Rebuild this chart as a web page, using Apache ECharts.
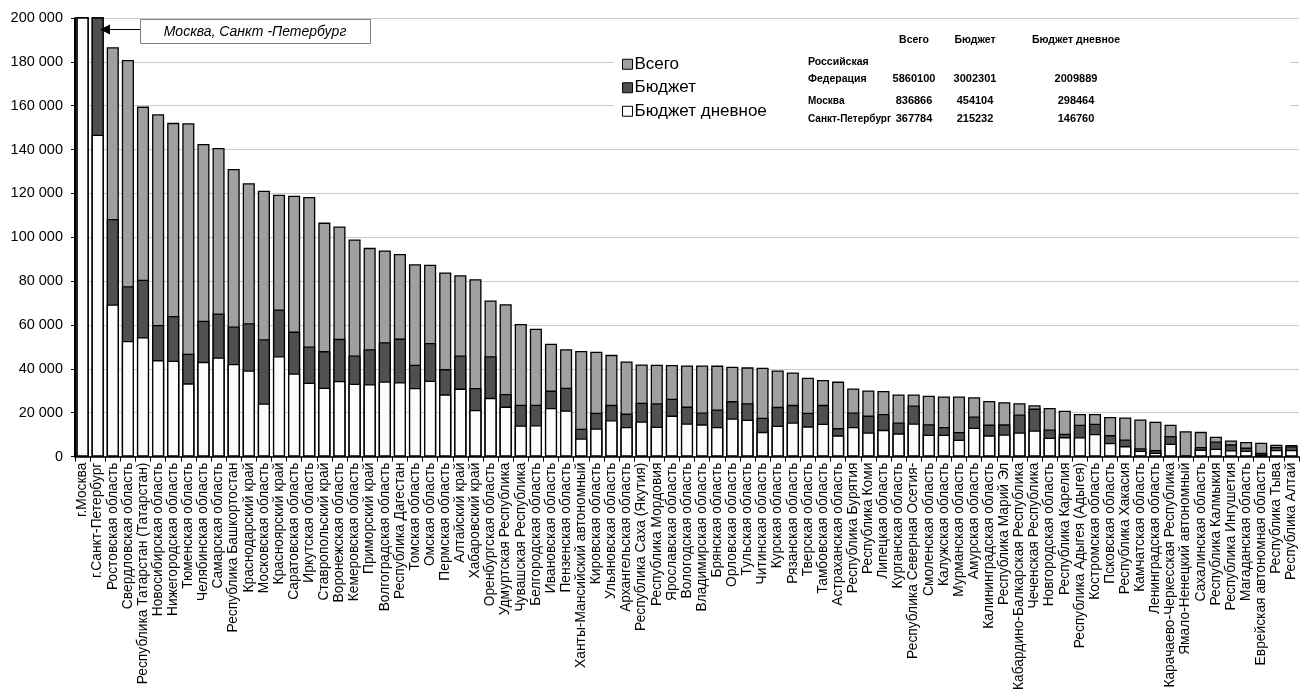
<!DOCTYPE html>
<html>
<head>
<meta charset="utf-8">
<script src="https://cdn.jsdelivr.net/npm/echarts@6/dist/echarts.min.js"></script>
<style>html,body{margin:0;padding:0;background:#fff}#c{width:1300px;height:693px}</style>
</head>
<body>
<div id="c"></div>
<script>
const categories = ["г.Москва","г.Санкт-Петербург","Ростовская область","Свердловская область","Республика Татарстан (Татарстан)","Новосибирская область","Нижегородская область","Тюменская область","Челябинская область","Самарская область","Республика Башкортостан","Краснодарский край","Московская область","Красноярский край","Саратовская область","Иркутская область","Ставропольский край","Воронежская область","Кемеровская область","Приморский край","Волгоградская область","Республика Дагестан","Томская область","Омская область","Пермская область","Алтайский край","Хабаровский край","Оренбургская область","Удмуртская Республика","Чувашская Республика","Белгородская область","Ивановская область","Пензенская область","Ханты-Мансийский автономный","Кировская область","Ульяновская область","Архангельская область","Республика Саха (Якутия)","Республика Мордовия","Ярославская область","Вологодская область","Владимирская область","Брянская область","Орловская область","Тульская область","Читинская область","Курская область","Рязанская область","Тверская область","Тамбовская область","Астраханская область","Республика Бурятия","Республика Коми","Липецкая область","Курганская область","Республика Северная Осетия-","Смоленская область","Калужская область","Мурманская область","Амурская область","Калининградская область","Республика Марий Эл","Кабардино-Балкарская Республика","Чеченская Республика","Новгородская область","Республика Карелия","Республика Адыгея (Адыгея)","Костромская область","Псковская область","Республика Хакасия","Камчатская область","Ленинградская область","Карачаево-Черкесская Республика","Ямало-Ненецкий автономный","Сахалинская область","Республика Калмыкия","Республика Ингушетия","Магаданская область","Еврейская автономная область","Республика Тыва","Республика Алтай"];

const totalValues = [836866,367784,186700,180900,159600,156100,152200,152000,142600,140700,131200,124700,121200,119400,119000,118400,106700,104900,99000,95200,94000,92400,87700,87500,84000,82700,80900,71200,69500,60500,58300,51500,49000,48200,47800,46400,43400,42000,41900,41800,41600,41600,41500,41000,40700,40500,39300,38400,36000,34900,34200,31100,30200,29900,28300,28300,27800,27400,27400,27100,25400,24800,24300,23400,22200,20900,19400,19400,18100,17800,16900,15900,14500,11600,11300,9100,7400,6700,6300,5400,5300];

const budgetValues = [454104,215232,108400,77700,80700,60000,64100,46900,62000,65300,59300,60800,53500,67100,57000,50200,48100,53700,46100,49000,52200,53800,41900,51800,39900,46100,31300,45800,28600,23700,23700,30100,31400,12700,20000,23600,19600,24600,24300,26400,22800,20100,21500,25300,24300,17700,22700,23600,20000,23600,13000,20100,18700,19400,15600,23300,14800,13500,11200,18300,14600,14700,19200,21900,12400,10400,14500,15000,9800,7800,3800,3000,9400,300,4400,6900,5600,4100,1800,4400,4700];

const dayValues = [298464,146760,69400,52700,54400,44000,43700,33400,43200,45200,42200,39300,24200,45800,37900,33700,31400,34500,33200,33000,34300,33900,31300,34600,28400,31000,21300,26800,22800,14200,14300,22200,21000,8300,12800,16600,13500,16000,13600,18700,15100,14700,13500,17400,16800,11300,14100,15600,13800,15000,9700,13500,11000,12200,10600,15100,10000,10000,7700,13200,9700,10100,11000,11900,8600,8900,8800,10300,6200,4800,2700,1800,5900,100,3200,3600,2900,2700,1000,3000,3000];

const seriesNames = ["Всего","Бюджет","Бюджет дневное"];
const tableHeaders = ["Всего","Бюджет","Бюджет дневное"];
const tableRowLabels = [["Российская","Федерация"],["Москва"],["Санкт-Петербург"]];
const tableRowValues = [[5860100,3002301,2009889],[836866,454104,298464],[367784,215232,146760]];
const annotationText = "Москва, Санкт -Петербург";

const FONT = "'Liberation Sans', Arial, sans-serif";
const fmt = v => String(v).replace(/\B(?=(\d{3})+(?!\d))/g, ' ');

const chart = echarts.init(document.getElementById('c'));

const colX = [914, 975, 1076];
const rowY = [79, 101, 119];
const graphics = [
  {type:'rect', z:3, shape:{x:614,y:22,width:676,height:116}, style:{fill:'#fff'}},
  {type:'rect', z:20, shape:{x:140.5,y:19.5,width:230,height:24}, style:{fill:'#fff',stroke:'#808080',lineWidth:1}},
  {type:'text', z:21, style:{x:255,y:32,text:annotationText,fill:'#000',font:'italic 14px '+FONT,textAlign:'center',textVerticalAlign:'middle'}},
  {type:'line', z:21, shape:{x1:108,y1:29.5,x2:140,y2:29.5}, style:{stroke:'#000',lineWidth:1}},
  {type:'polygon', z:21, shape:{points:[[100,29.5],[110,24.5],[110,34.5]]}, style:{fill:'#000'}}
];
tableHeaders.forEach((h,i)=>{
  graphics.push({type:'text', z:10, style:{x:colX[i],y:40,text:h,fill:'#000',font:'bold 10.5px '+FONT,textAlign:'center',textVerticalAlign:'middle'}});
});
tableRowLabels.forEach((lbls,r)=>{
  if (lbls.length === 2) {
    graphics.push({type:'text', z:10, style:{x:808,y:rowY[r]-17,text:lbls[0],fill:'#000',font:'bold 10.5px '+FONT,textVerticalAlign:'middle'}});
    graphics.push({type:'text', z:10, style:{x:808,y:rowY[r],text:lbls[1],fill:'#000',font:'bold 10.5px '+FONT,textVerticalAlign:'middle'}});
  } else {
    graphics.push({type:'text', z:10, style:{x:808,y:rowY[r],text:lbls[0],fill:'#000',font:'bold 10px '+FONT,textVerticalAlign:'middle'}});
  }
  tableRowValues[r].forEach((v,i)=>{
    graphics.push({type:'text', z:10, style:{x:colX[i],y:rowY[r],text:String(v),fill:'#000',font:'bold 11px '+FONT,textAlign:'center',textVerticalAlign:'middle'}});
  });
});

const barBase = {type:'bar', barGap:'-100%', barCategoryGap:'20%', clip:true, animation:false};

chart.setOption({
  animation:false,
  textStyle:{fontFamily:FONT},
  grid:{left:75, right:1, top:18, bottom:234, containLabel:false},
  legend:{
    data:seriesNames, orient:'vertical', left:617, top:50, z:10,
    itemWidth:10, itemHeight:10, itemGap:5, icon:'rect',
    itemStyle:{borderColor:'#000', borderWidth:1},
    textStyle:{fontSize:17, color:'#000', fontFamily:FONT, padding:[0,0,0,-3], lineHeight:18.5}
  },
  xAxis:{
    type:'category', data:categories,
    axisLine:{lineStyle:{color:'#000', width:1.5}},
    axisTick:{show:true, length:5, lineStyle:{color:'#000', width:1}},
    axisLabel:{rotate:90, interval:0, fontSize:13.8, color:'#000', margin:6, fontFamily:FONT}
  },
  yAxis:{
    type:'value', min:0, max:200000, interval:20000,
    axisLine:{show:true, lineStyle:{color:'#000', width:2}},
    axisTick:{show:true, length:4, lineStyle:{color:'#000'}},
    axisLabel:{formatter:fmt, fontSize:14.5, color:'#000', margin:12, fontFamily:FONT},
    splitLine:{lineStyle:{color:'#cccccc', width:1}}
  },
  series:[
    Object.assign({}, barBase, {name:seriesNames[0], data:totalValues, itemStyle:{color:'#a0a0a0', borderColor:'#000', borderWidth:1.3}}),
    Object.assign({}, barBase, {name:seriesNames[1], data:budgetValues, itemStyle:{color:'#505050', borderColor:'#000', borderWidth:1.3}}),
    Object.assign({}, barBase, {name:seriesNames[2], data:dayValues, itemStyle:{color:'#fcfcfc', borderColor:'#000', borderWidth:1.3}})
  ],
  graphic:graphics
});
</script>
</body>
</html>
